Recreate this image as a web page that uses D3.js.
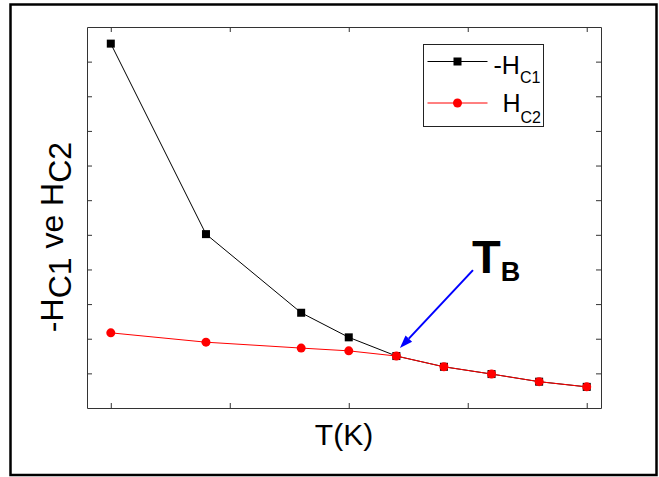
<!DOCTYPE html>
<html>
<head>
<meta charset="utf-8">
<script src="https://cdn.jsdelivr.net/npm/d3@7"></script>
<style>
  body { margin: 0; background: #fff; }
  svg text { font-family: "Liberation Sans", Arial, sans-serif; }
</style>
</head>
<body>
<div id="chart"></div>
<script>
// -- data (axis units are arbitrary, no tick labels) --
var temps = [0, 0.8, 1.6, 2.0, 2.4, 2.8, 3.2, 3.6, 4.0];
var neg_hc1 = [10.52, 5.02, 2.75, 2.04, 1.50, 1.19, 0.98, 0.76, 0.61];
var hc2 = [2.17, 1.90, 1.73, 1.65, 1.50, 1.19, 0.98, 0.76, 0.61];
var x_ticks = [0, 1, 2, 3, 4];
var y_ticks = [1, 2, 3, 4, 5, 6, 7, 8, 9, 10];
// TB annotation: arrow from label towards the crossing point
var tb_arrow = { x0: 3.044, y0: 3.98, x1: 2.43, y1: 1.73 };
var tb_label = { x: 3.036, y: 3.9 };

var width = 659, height = 477;
var margin = { top: 27, right: 58, bottom: 69, left: 87 };

var svg = d3.select("#chart")
  .append("svg")
  .attr("width", width)
  .attr("height", height);

// outer frame
svg.append("rect")
  .attr("x", 10.5).attr("y", 4.5)
  .attr("width", 646).attr("height", 470.5)
  .attr("fill", "none")
  .attr("stroke", "black")
  .attr("stroke-width", 2.5);

// == scales ==
var x = d3.scaleLinear()
  .domain([-0.2, 4.12])
  .range([margin.left, width - margin.right]);

var y = d3.scaleLinear()
  .domain([0, 11])
  .range([height - margin.bottom, margin.top]);

// == axes (ticks inward, no labels) ==
var axis_color = "#333";
function styleAxis(g) {
  g.selectAll("path").attr("stroke", axis_color);
  g.selectAll("line").attr("stroke", axis_color);
}
svg.append("g")
  .attr("transform", "translate(0," + y.range()[0] + ")")
  .call(d3.axisBottom(x).tickValues(x_ticks).tickSizeInner(-5).tickSizeOuter(0).tickFormat(""))
  .call(styleAxis);
svg.append("g")
  .attr("transform", "translate(0," + y.range()[1] + ")")
  .call(d3.axisTop(x).tickValues(x_ticks).tickSizeInner(-5).tickSizeOuter(0).tickFormat(""))
  .call(styleAxis);
svg.append("g")
  .attr("transform", "translate(" + x.range()[0] + ",0)")
  .call(d3.axisLeft(y).tickValues(y_ticks).tickSizeInner(-5).tickSizeOuter(0).tickFormat(""))
  .call(styleAxis);
svg.append("g")
  .attr("transform", "translate(" + x.range()[1] + ",0)")
  .call(d3.axisRight(y).tickValues(y_ticks).tickSizeInner(-5).tickSizeOuter(0).tickFormat(""))
  .call(styleAxis);

// == axis titles ==
svg.append("text")
  .attr("x", (x.range()[0] + x.range()[1]) / 2)
  .attr("y", 445)
  .attr("text-anchor", "middle")
  .style("font-size", "30px")
  .text("T(K)");

var ytitle = svg.append("text")
  .attr("transform", "translate(63,237) rotate(-90)")
  .attr("text-anchor", "middle")
  .style("font-size", "32px");
ytitle.append("tspan").text("-H");
ytitle.append("tspan").attr("dy", 8).text("C1");
ytitle.append("tspan").attr("dy", -8).text(" ve H");
ytitle.append("tspan").attr("dy", 8).text("C2");

// == series ==
var line = d3.line()
  .x(function (d) { return x(d[0]); })
  .y(function (d) { return y(d[1]); });

var black_pts = temps.map(function (t, i) { return [t, neg_hc1[i]]; });
var red_pts = temps.map(function (t, i) { return [t, hc2[i]]; });

svg.append("path")
  .datum(black_pts)
  .attr("d", line)
  .attr("fill", "none")
  .attr("stroke", "black")
  .attr("stroke-width", 1);

svg.selectAll("rect.sq")
  .data(black_pts)
  .enter()
  .append("rect")
  .attr("class", "sq")
  .attr("x", function (d) { return x(d[0]) - 4; })
  .attr("y", function (d) { return y(d[1]) - 4; })
  .attr("width", 8)
  .attr("height", 8)
  .attr("fill", "black");

svg.append("path")
  .datum(red_pts)
  .attr("d", line)
  .attr("fill", "none")
  .attr("stroke", "red")
  .attr("stroke-width", 1);

svg.selectAll("circle.dot")
  .data(red_pts)
  .enter()
  .append("circle")
  .attr("class", "dot")
  .attr("cx", function (d) { return x(d[0]); })
  .attr("cy", function (d) { return y(d[1]); })
  .attr("r", 4.5)
  .attr("fill", "red");

// == legend ==
var lg = svg.append("g").attr("transform", "translate(423.5,44.5)");
lg.append("rect")
  .attr("width", 120).attr("height", 82)
  .attr("fill", "white")
  .attr("stroke", "#222")
  .attr("stroke-width", 1);
// row 1
lg.append("line").attr("x1", 4).attr("x2", 64).attr("y1", 17).attr("y2", 17)
  .attr("stroke", "black").attr("stroke-width", 1);
lg.append("rect").attr("x", 30).attr("y", 13).attr("width", 8).attr("height", 8).attr("fill", "black");
var t1 = lg.append("text").attr("x", 70).attr("y", 29).style("font-size", "25px");
t1.append("tspan").text("-H");
t1.append("tspan").attr("dy", 9).style("font-size", "16px").text("C1");
// row 2
lg.append("line").attr("x1", 4).attr("x2", 64).attr("y1", 58.5).attr("y2", 58.5)
  .attr("stroke", "red").attr("stroke-width", 1);
lg.append("circle").attr("cx", 34).attr("cy", 58.5).attr("r", 4.5).attr("fill", "red");
var t2 = lg.append("text").attr("x", 79).attr("y", 67).style("font-size", "25px");
t2.append("tspan").text("H");
t2.append("tspan").attr("dy", 11).style("font-size", "16px").text("C2");

// == TB annotation ==
var ax0 = x(tb_arrow.x0), ay0 = y(tb_arrow.y0);
var ax1 = x(tb_arrow.x1), ay1 = y(tb_arrow.y1);
var ang = Math.atan2(ay1 - ay0, ax1 - ax0);
var head_len = 13, head_w = 4.5;
var bx = ax1 - head_len * Math.cos(ang), by = ay1 - head_len * Math.sin(ang);
svg.append("line")
  .attr("x1", ax0).attr("y1", ay0)
  .attr("x2", bx).attr("y2", by)
  .attr("stroke", "#0000ff")
  .attr("stroke-width", 2);
svg.append("polygon")
  .attr("points", [
    [ax1, ay1],
    [bx + head_w * Math.sin(ang), by - head_w * Math.cos(ang)],
    [bx - head_w * Math.sin(ang), by + head_w * Math.cos(ang)]
  ].map(function (p) { return p.join(","); }).join(" "))
  .attr("fill", "#0000ff");

var tb = svg.append("text")
  .attr("x", x(tb_label.x))
  .attr("y", y(tb_label.y))
  .style("font-size", "47px")
  .style("font-weight", "bold");
tb.append("tspan").text("T");
tb.append("tspan").attr("dy", 8).style("font-size", "27px").text("B");
</script>
</body>
</html>
